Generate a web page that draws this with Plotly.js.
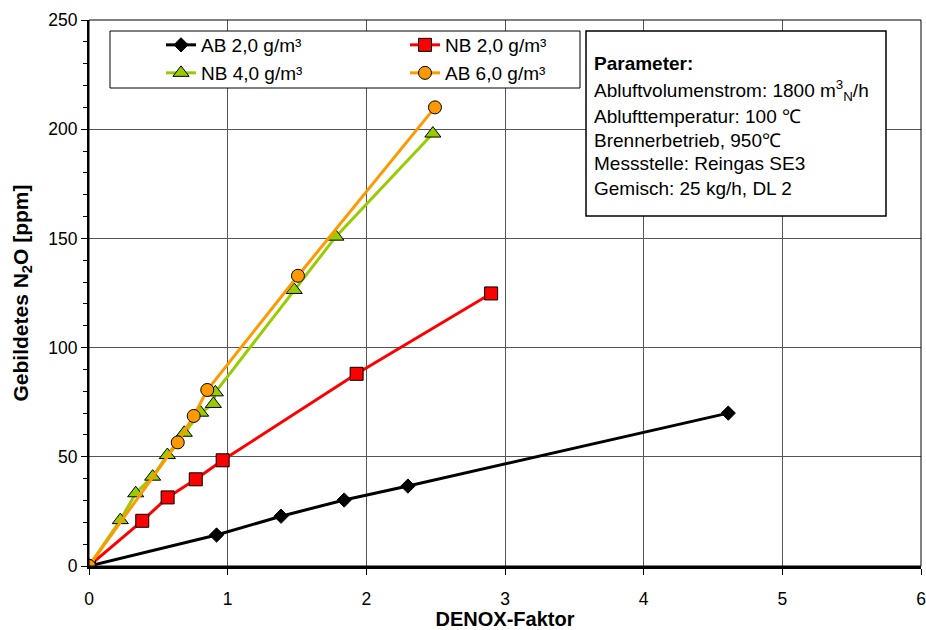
<!DOCTYPE html>
<html>
<head>
<meta charset="utf-8">
<script src="https://cdn.plot.ly/plotly-3.0.1.min.js"></script>
<style>body{margin:0;padding:0;background:#fff;}#chart{width:926px;height:630px;}</style>
</head>
<body>
<div id="chart"></div>
<script>
// ---- data ----
const seriesNames = ["AB 2,0 g/m³", "NB 2,0 g/m³", "NB 4,0 g/m³", "AB 6,0 g/m³"];
const ab2_x = [0, 0.92, 1.385, 1.84, 2.30, 4.61];
const ab2_y = [0, 14.2, 22.8, 30.2, 36.6, 70.0];
const nb2_x = [0, 0.384, 0.567, 0.77, 0.964, 1.93, 2.90];
const nb2_y = [0, 20.7, 31.4, 39.7, 48.4, 88.0, 124.8];
const nb4_x = [0, 0.226, 0.337, 0.459, 0.565, 0.687, 0.805, 0.897, 0.911, 1.48, 1.78, 2.48];
const nb4_y = [0, 21.0, 33.3, 40.9, 50.8, 61.0, 70.2, 74.2, 79.5, 126.4, 150.8, 198.0];
const ab6_x = [0, 0.64, 0.755, 0.853, 1.507, 2.495];
const ab6_y = [0, 56.6, 68.7, 80.6, 132.9, 210.0];
const paramLines = [
  "<b>Parameter:</b>",
  "Abluftvolumenstrom: 1800 m<sup>3</sup><sub>N</sub>/h",
  "Ablufttemperatur: 100 ℃",
  "Brennerbetrieb, 950℃",
  "Messstelle: Reingas SE3",
  "Gemisch: 25 kg/h, DL 2"
];
const xTitle = "<b>DENOX-Faktor</b>";
const yTitle = "<b>Gebildetes N<sub>2</sub>O [ppm]</b>";

const FONT = "Liberation Sans, Arial, sans-serif";

const traces = [
  {x: ab2_x, y: ab2_y, name: seriesNames[0], mode: "lines+markers", legend: "legend",
   line: {color: "#000000", width: 3},
   marker: {symbol: "diamond", size: 11, color: "#000000", line: {color: "#000000", width: 1}}},
  {x: nb2_x, y: nb2_y, name: seriesNames[1], mode: "lines+markers", legend: "legend",
   line: {color: "#FF0000", width: 3},
   marker: {symbol: "square", size: 13, color: "#FF0000", line: {color: "#000000", width: 1}}},
  {x: nb4_x, y: nb4_y, name: seriesNames[2], mode: "lines+markers", legend: "legend2",
   line: {color: "#99CC00", width: 3},
   marker: {symbol: "triangle-up", size: 14, color: "#99CC00", line: {color: "#000000", width: 1}}},
  {x: ab6_x, y: ab6_y, name: seriesNames[3], mode: "lines+markers", legend: "legend2",
   line: {color: "#FF9900", width: 3},
   marker: {symbol: "circle", size: 13, color: "#FF9900", line: {color: "#000000", width: 1}}}
];

// pixel helpers for overlay placement (plot area 89..921 x, 20..566 y)
const L = 89, R = 921, T = 20, B = 566;
const px = v => (v - L) / (R - L);
const py = v => (B - v) / (B - T);

const paramY = [63, 90, 116, 140, 164, 188];
const annotations = paramLines.map((t, i) => ({
  text: t, xref: "paper", yref: "paper", x: px(592), y: py(paramY[i]),
  xanchor: "left", yanchor: "middle", showarrow: false,
  font: {family: FONT, size: 19, color: "#000"}
}));

const legendCommon = {
  orientation: "h", xanchor: "left", yanchor: "middle",
  bgcolor: "rgba(0,0,0,0)", borderwidth: 0,
  font: {family: FONT, size: 19, color: "#000"},
  entrywidth: 199, entrywidthmode: "pixels", tracegroupgap: 0
};

const layout = {
  width: 926, height: 630,
  margin: {l: L, r: 926 - R, t: T, b: 630 - B},
  paper_bgcolor: "#ffffff", plot_bgcolor: "#ffffff",
  font: {family: FONT, size: 17.5, color: "#000"},
  xaxis: {
    range: [0, 6], dtick: 1, tick0: 0,
    showgrid: true, gridcolor: "#555555", gridwidth: 1,
    showline: true, linecolor: "#000", linewidth: 3,
    ticks: "outside", ticklen: 6, tickcolor: "#000", tickwidth: 1,
    ticklabelstandoff: 9,
    zeroline: false, fixedrange: true,
    tickfont: {family: FONT, size: 17.5},
    title: {text: xTitle, font: {family: FONT, size: 20}, standoff: 12}
  },
  yaxis: {
    range: [0, 250], dtick: 50, tick0: 0,
    showgrid: true, gridcolor: "#555555", gridwidth: 1,
    showline: true, linecolor: "#000", linewidth: 2,
    ticks: "outside", ticklen: 6, tickcolor: "#000", tickwidth: 1,
    minor: {dtick: 10, ticks: "outside", ticklen: 4, tickcolor: "#000", showgrid: false},
    zeroline: false, fixedrange: true,
    tickfont: {family: FONT, size: 17.5},
    title: {text: yTitle, font: {family: FONT, size: 21}, standoff: 14}
  },
  showlegend: true,
  legend: Object.assign({}, legendCommon, {x: px(161), y: py(45)}),
  legend2: Object.assign({}, legendCommon, {x: px(161), y: py(73)}),
  shapes: [
    {type: "rect", xref: "paper", yref: "paper", x0: 0, x1: 1, y0: 0, y1: 1,
     line: {color: "#000", width: 1}, fillcolor: "rgba(0,0,0,0)", layer: "above"},
    {type: "rect", xref: "paper", yref: "paper", x0: px(110), x1: px(580), y0: py(88), y1: py(31),
     line: {color: "#000", width: 1}, fillcolor: "#ffffff", layer: "above"},
    {type: "rect", xref: "paper", yref: "paper", x0: px(586), x1: px(886), y0: py(216), y1: py(31),
     line: {color: "#000", width: 1.5}, fillcolor: "#ffffff", layer: "above"}
  ],
  annotations: annotations
};

Plotly.newPlot("chart", traces, layout, {displayModeBar: false, staticPlot: true});
</script>
</body>
</html>
